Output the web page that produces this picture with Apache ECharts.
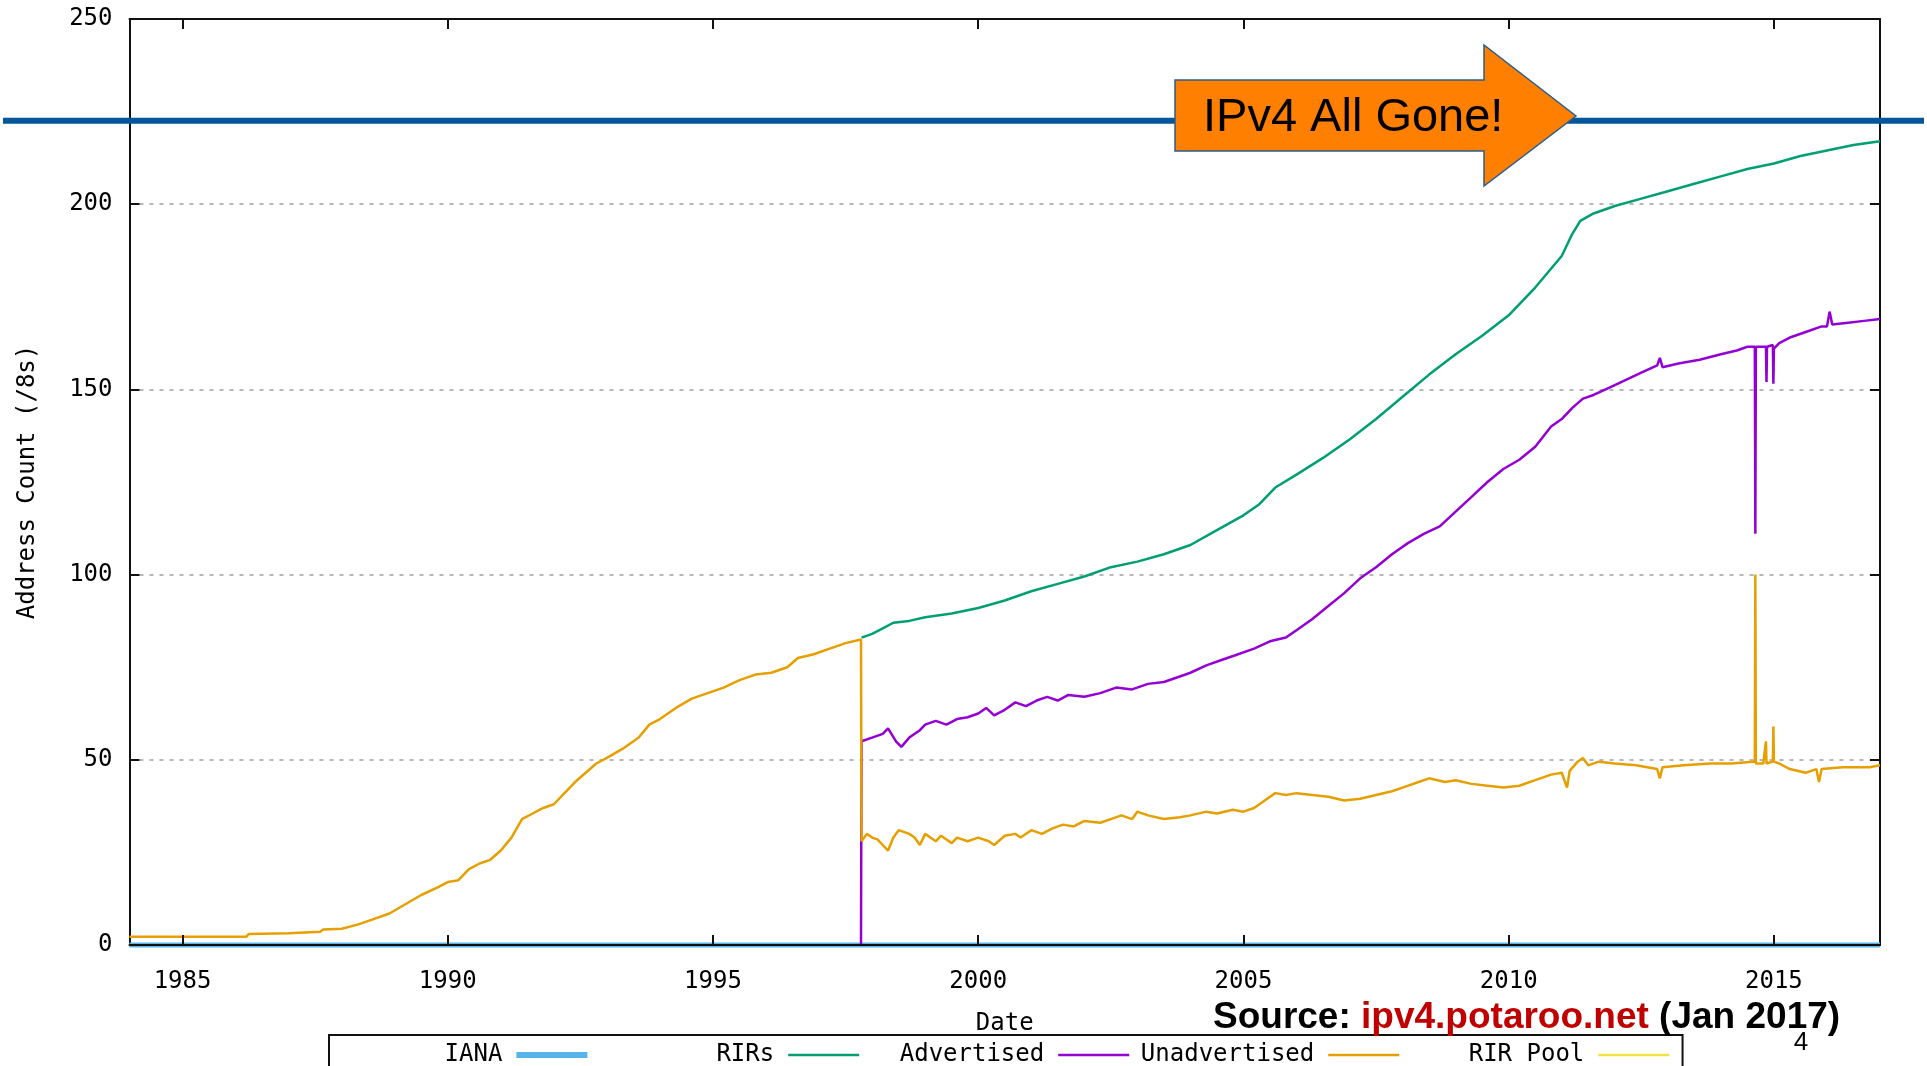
<!DOCTYPE html>
<html>
<head>
<meta charset="utf-8">
<title>IPv4 Address Pools</title>
<script src="https://cdn.jsdelivr.net/npm/echarts@6/dist/echarts.min.js"></script>
<style>
  html, body { margin: 0; padding: 0; background: #fff; }
  #chart { width: 1927px; height: 1066px; }
</style>
</head>
<body>
<div id="chart"></div>
<script>
// tick positions on the date axis
const yearTicks = [1985, 1990, 1995, 2000, 2005, 2010, 2015]
const seriesNames = ['IANA', 'RIRs', 'Advertised', 'Unadvertised', 'RIR Pool']
const seriesColors = ['#56B4E9', '#009E73', '#9400D3', '#E69F00', '#F0E442']

// [year, count of /8s]
const iana = [[1984, 0], [2017, 0]]

const rirs = [
  [1997.8, 83], [1998.0, 84], [1998.2, 85.5], [1998.4, 87], [1998.7, 87.5], [1999.0, 88.5],
  [1999.5, 89.5], [2000.0, 91], [2000.5, 93], [2001.0, 95.5], [2001.5, 97.5], [2002.0, 99.5],
  [2002.5, 102], [2003.0, 103.5], [2003.5, 105.5], [2004.0, 108], [2004.5, 112], [2005.0, 116],
  [2005.3, 119], [2005.6, 123.5], [2006.0, 127], [2006.5, 131.5], [2007.0, 136.5], [2007.5, 142],
  [2008.0, 148], [2008.5, 154], [2009.0, 159.5], [2009.5, 164.5], [2010.0, 170], [2010.5, 177.5],
  [2011.0, 186], [2011.2, 192], [2011.35, 195.5], [2011.6, 197.5], [2012.0, 199.5], [2012.5, 201.5],
  [2013.0, 203.5], [2013.5, 205.5], [2014.0, 207.5], [2014.5, 209.5], [2015.0, 211], [2015.5, 213],
  [2016.0, 214.5], [2016.5, 216], [2017.0, 217]
]

const advertised = [
  [1997.79, 0], [1997.8, 55], [1998.0, 56], [1998.2, 57], [1998.3, 58.5], [1998.45, 55], [1998.55, 53.5],
  [1998.7, 56], [1998.9, 58], [1999.0, 59.5], [1999.2, 60.5], [1999.4, 59.5], [1999.6, 61], [1999.8, 61.5],
  [2000.0, 62.5], [2000.15, 64], [2000.3, 62], [2000.5, 63.5], [2000.7, 65.5], [2000.9, 64.5], [2001.1, 66],
  [2001.3, 67], [2001.5, 66], [2001.7, 67.5], [2002.0, 67], [2002.3, 68], [2002.6, 69.5], [2002.9, 69],
  [2003.2, 70.5], [2003.5, 71], [2003.8, 72.5], [2004.0, 73.5], [2004.3, 75.5], [2004.6, 77], [2004.9, 78.5],
  [2005.2, 80], [2005.5, 82], [2005.8, 83], [2006.0, 85], [2006.3, 88], [2006.6, 91.5], [2006.9, 95],
  [2007.2, 99], [2007.5, 102], [2007.8, 105.5], [2008.1, 108.5], [2008.4, 111], [2008.7, 113], [2009.0, 117],
  [2009.3, 121], [2009.6, 125], [2009.9, 128.5], [2010.2, 131], [2010.5, 134.5], [2010.8, 140], [2011.0, 142],
  [2011.2, 145], [2011.4, 147.5], [2011.6, 148.5], [2011.9, 150.5], [2012.2, 152.5], [2012.5, 154.5],
  [2012.8, 156.5], [2012.85, 158.5], [2012.9, 156], [2013.2, 157], [2013.6, 158], [2014.0, 159.5],
  [2014.3, 160.5], [2014.5, 161.5], [2014.64, 161.5], [2014.65, 111], [2014.66, 161.5], [2014.85, 161.5],
  [2014.86, 152], [2014.87, 161.5], [2014.98, 162], [2014.99, 151.5], [2015.0, 161], [2015.1, 162.5],
  [2015.3, 164], [2015.6, 165.5], [2015.9, 167], [2016.0, 167], [2016.05, 171], [2016.1, 167.5],
  [2016.4, 168], [2016.7, 168.5], [2017.0, 169]
]

const unadvertised = [
  [1984.0, 2.2], [1986.2, 2.2], [1986.25, 3.0], [1987.0, 3.2], [1987.6, 3.6], [1987.65, 4.2], [1988.0, 4.4],
  [1988.3, 5.5], [1988.6, 7], [1988.9, 8.5], [1989.2, 11], [1989.5, 13.5], [1989.8, 15.5], [1990.0, 17],
  [1990.2, 17.5], [1990.4, 20.5], [1990.6, 22], [1990.8, 23], [1991.0, 25.5], [1991.2, 29], [1991.4, 34],
  [1991.6, 35.5], [1991.8, 37], [1992.0, 38], [1992.2, 41], [1992.4, 44], [1992.6, 46.5], [1992.8, 49],
  [1993.0, 50.5], [1993.3, 53], [1993.6, 56], [1993.8, 59.5], [1994.0, 61], [1994.3, 64], [1994.6, 66.5],
  [1994.9, 68], [1995.2, 69.5], [1995.5, 71.5], [1995.8, 73], [1996.1, 73.5], [1996.4, 75], [1996.6, 77.5],
  [1996.9, 78.5], [1997.2, 80], [1997.5, 81.5], [1997.79, 82.5],
  [1997.8, 28], [1997.9, 30], [1998.0, 29], [1998.1, 28.5], [1998.2, 27], [1998.3, 25.5], [1998.4, 29],
  [1998.5, 31], [1998.7, 30], [1998.8, 29], [1998.9, 27], [1999.0, 30], [1999.2, 28], [1999.3, 29.5],
  [1999.5, 27.5], [1999.6, 29], [1999.8, 28], [2000.0, 29], [2000.2, 28], [2000.3, 27], [2000.5, 29.5],
  [2000.7, 30], [2000.8, 29], [2001.0, 31], [2001.2, 30], [2001.4, 31.5], [2001.6, 32.5], [2001.8, 32],
  [2002.0, 33.5], [2002.3, 33], [2002.5, 34], [2002.7, 35], [2002.9, 34], [2003.0, 36], [2003.2, 35],
  [2003.5, 34], [2003.8, 34.5], [2004.0, 35], [2004.3, 36], [2004.5, 35.5], [2004.8, 36.5], [2005.0, 36],
  [2005.2, 37], [2005.4, 39], [2005.6, 41], [2005.8, 40.5], [2006.0, 41], [2006.3, 40.5], [2006.6, 40],
  [2006.9, 39], [2007.2, 39.5], [2007.5, 40.5], [2007.8, 41.5], [2008.0, 42.5], [2008.3, 44], [2008.5, 45],
  [2008.8, 44], [2009.0, 44.5], [2009.3, 43.5], [2009.6, 43], [2009.9, 42.5], [2010.2, 43], [2010.5, 44.5],
  [2010.8, 46], [2011.0, 46.5], [2011.1, 42.5], [2011.15, 47], [2011.3, 49.5], [2011.4, 50.5], [2011.5, 48.5],
  [2011.7, 49.5], [2012.0, 49], [2012.4, 48.5], [2012.8, 47.5], [2012.85, 45], [2012.9, 48], [2013.3, 48.5],
  [2013.8, 49], [2014.2, 49], [2014.6, 49.5], [2014.64, 49.5], [2014.65, 100], [2014.66, 49], [2014.8, 49],
  [2014.85, 55], [2014.86, 49], [2014.98, 49.5], [2014.99, 59], [2015.0, 49.5], [2015.1, 49], [2015.3, 47.5],
  [2015.6, 46.5], [2015.8, 47.5], [2015.85, 44], [2015.9, 47.5], [2016.3, 48], [2016.8, 48], [2017.0, 48.5]
]

const rirPool = []

// level of the "all gone" marker line, in /8s
const goneLevel = 222.5

const seriesData = [iana, rirs, advertised, unadvertised, rirPool]
const lineWidths = [5, 2.5, 2.5, 2.5, 2.5]

const monoFont = 'DejaVu Sans Mono'
const frameLine = { color: '#111', width: 2 }
const tickStyle = { show: true, inside: true, length: 10, lineStyle: { color: '#111', width: 2 } }

const chart = echarts.init(document.getElementById('chart'))

const option = {
  animation: false,
  backgroundColor: '#fff',
  grid: { left: 129.5, right: 47, top: 19, bottom: 121 },
  legend: {
    // gnuplot style key: text right-justified in front of each sample
    data: seriesNames.map((name, i) => ({ name: name, lineStyle: { width: i === 0 ? 6 : 2.5 } })),
    left: 329,
    top: 1035,
    align: 'right',
    itemWidth: 71,
    itemHeight: 14,
    itemGap: 10.4,
    padding: [8, 12, 30, 0],
    borderColor: '#111',
    borderWidth: 2,
    itemStyle: { color: 'transparent', borderWidth: 0, opacity: 0 },
    formatter: name => name.padStart(12, ' '),
    textStyle: { fontFamily: monoFont, fontSize: 24, color: '#000', padding: [0, 9, 0, 0] }
  },
  xAxis: [
    {
      type: 'value',
      min: 1984,
      max: 2017,
      position: 'bottom',
      name: 'Date',
      nameLocation: 'middle',
      nameGap: 67,
      nameTextStyle: { fontFamily: monoFont, fontSize: 24, color: '#000' },
      axisLine: { show: true, onZero: false, lineStyle: frameLine },
      axisTick: Object.assign({ customValues: yearTicks }, tickStyle),
      axisLabel: {
        customValues: yearTicks,
        formatter: v => String(v),
        fontFamily: monoFont,
        fontSize: 24,
        color: '#000',
        margin: 25
      },
      splitLine: { show: false },
      z: 5
    },
    {
      type: 'value',
      min: 1984,
      max: 2017,
      position: 'top',
      axisLine: { show: true, onZero: false, lineStyle: frameLine },
      axisTick: Object.assign({ customValues: yearTicks }, tickStyle),
      axisLabel: { show: false },
      splitLine: { show: false }
    }
  ],
  yAxis: [
    {
      type: 'value',
      min: 0,
      max: 250,
      interval: 50,
      position: 'left',
      name: 'Address Count (/8s)',
      nameLocation: 'middle',
      nameGap: 90,
      nameTextStyle: { fontFamily: monoFont, fontSize: 24, color: '#000' },
      axisLine: { show: true, onZero: false, lineStyle: frameLine },
      axisTick: tickStyle,
      axisLabel: { fontFamily: monoFont, fontSize: 24, color: '#000', margin: 17 },
      splitLine: { show: true, lineStyle: { type: [4, 6], color: '#a0a0a0', width: 1.5 } }
    },
    {
      type: 'value',
      min: 0,
      max: 250,
      interval: 50,
      position: 'right',
      axisLine: { show: true, onZero: false, lineStyle: frameLine },
      axisTick: tickStyle,
      axisLabel: { show: false },
      splitLine: { show: false }
    }
  ],
  series: seriesNames.map((name, i) => ({
    name: name,
    type: 'line',
    data: seriesData[i],
    symbol: 'none',
    clip: i !== 0,
    color: seriesColors[i],
    lineStyle: { width: lineWidths[i], color: seriesColors[i] },
    emphasis: { disabled: true }
  }))
}

chart.setOption(option)

// slide annotations: the "all gone" line across the page, the arrow, source and page number
const goneY = chart.convertToPixel({ yAxisIndex: 0 }, goneLevel)
chart.setOption({
  graphic: [
    {
      type: 'line',
      z: 10,
      shape: { x1: 3, y1: goneY, x2: 1924, y2: goneY },
      style: { stroke: '#03569A', lineWidth: 6 }
    },
    {
      type: 'polygon',
      z: 11,
      shape: { points: [[1175, 80], [1484, 80], [1484, 45], [1576, 116], [1484, 186], [1484, 151], [1175, 151]] },
      style: { fill: '#FF7F00', stroke: '#2A5E8C', lineWidth: 1.5 }
    },
    {
      type: 'text',
      z: 12,
      x: 1203,
      y: 118,
      style: { text: 'IPv4 All Gone!', fontFamily: 'Liberation Sans', fontSize: 47, fill: '#000', verticalAlign: 'middle' }
    },
    {
      type: 'text',
      z: 12,
      x: 1213,
      y: 1018,
      style: {
        text: '{a|Source: }{b|ipv4.potaroo.net}{a| (Jan 2017)}',
        verticalAlign: 'middle',
        rich: {
          a: { fontFamily: 'Liberation Sans', fontWeight: 'bold', fontSize: 37, fill: '#000' },
          b: { fontFamily: 'Liberation Sans', fontWeight: 'bold', fontSize: 37, fill: '#C00000' }
        }
      }
    },
    {
      type: 'text',
      z: 12,
      x: 1801,
      y: 1043,
      style: { text: '4', fontFamily: 'Liberation Sans', fontSize: 26, fill: '#000', align: 'center', verticalAlign: 'middle' }
    }
  ]
})
</script>
</body>
</html>
